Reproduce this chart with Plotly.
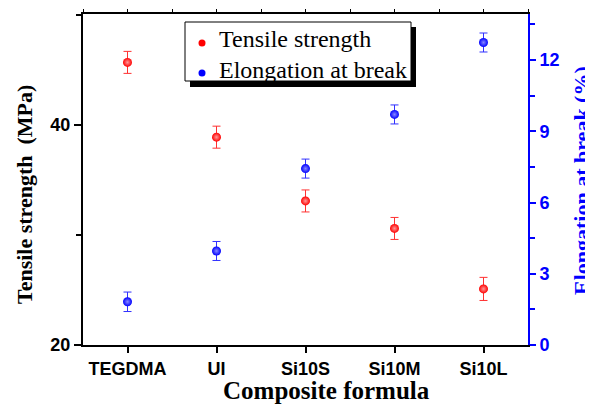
import plotly.graph_objects as go

categories = ["TEGDMA", "UI", "Si10S", "Si10M", "Si10L"]
tensile = [45.7, 38.9, 33.1, 30.6, 25.1]
tensile_err = [1.0, 1.0, 1.0, 1.0, 1.05]
elong = [1.82, 3.96, 7.43, 9.71, 12.74]
elong_err = [0.41, 0.4, 0.4, 0.4, 0.4]
series_names = ["Tensile strength", "Elongation at break"]
xpos = list(range(len(categories)))

RED, BLUE = "#ff0000", "#0000ff"

# page body has an 8px margin; work in reference-pixel coords and shift
OFF = 8
W, H = 593 - OFF, 405 - OFF
L, T = 83 - OFF, 14 - OFF
Rg, Bt = 528 - OFF, 345 - OFF
R, B = W - Rg, H - Bt
pw, ph = Rg - L, Bt - T

def px(x):
    return (x - OFF - L) / pw

def py(y):
    return (Bt - (y - OFF)) / ph

fig = go.Figure()
fig.add_trace(go.Scatter(
    x=xpos, y=tensile, mode="markers", name=series_names[0], showlegend=False,
    marker=dict(color=RED, size=9, gradient=dict(type="radial", color="#ff9999")),
    error_y=dict(type="data", array=tensile_err, color="#ff3030", thickness=1, width=4),
    yaxis="y", xaxis="x"))
fig.add_trace(go.Scatter(
    x=xpos, y=elong, mode="markers", name=series_names[1], showlegend=False,
    marker=dict(color=BLUE, size=9, gradient=dict(type="radial", color="#8888ff")),
    error_y=dict(type="data", array=elong_err, color="#3030ff", thickness=1, width=4),
    yaxis="y2", xaxis="x"))
fig.add_trace(go.Scatter(x=[None], y=[None], xaxis="x2", yaxis="y", showlegend=False))

tickfont = dict(family="Liberation Sans", size=18, color="black", weight="bold")

# manual legend box (with drop shadow)
legend_shapes = [
    dict(type="rect", xref="paper", yref="paper", x0=px(190), x1=px(416), y0=py(87), y1=py(27),
         fillcolor="black", line=dict(width=0), layer="above"),
    dict(type="rect", xref="paper", yref="paper", x0=px(185), x1=px(411), y0=py(81), y1=py(22),
         fillcolor="white", line=dict(color="black", width=1), layer="above"),
]
legend_rows = [43, 73]
legend_cols = [RED, BLUE]
for yy, col in zip(legend_rows, legend_cols):
    legend_shapes.append(dict(type="circle", xref="paper", yref="paper",
                              x0=px(198.5), x1=px(205.5), y0=py(yy + 3.5), y1=py(yy - 3.5),
                              fillcolor=col, line=dict(width=0), layer="above"))

annotations = [
    dict(text="<b>Composite formula</b>", xref="paper", yref="paper",
         x=px(326), y=py(390), xanchor="center", yanchor="middle", showarrow=False,
         font=dict(family="Liberation Serif", size=25, color="black")),
    dict(text="<b>Tensile strength  (MPa)</b>", xref="paper", yref="paper",
         x=px(24), y=py(195), xanchor="center", yanchor="middle", showarrow=False,
         textangle=-90, font=dict(family="Liberation Serif", size=22, color="black")),
    dict(text="<b>Elongation at break (%)</b>", xref="paper", yref="paper",
         x=px(581), y=py(181), xanchor="center", yanchor="middle", showarrow=False,
         textangle=-90, font=dict(family="Liberation Serif", size=22, color=BLUE)),
]
for name, yy in zip(series_names, [39.5, 70.5]):
    annotations.append(dict(text=name, xref="paper", yref="paper",
                            x=px(217), y=py(yy), xanchor="left", yanchor="middle",
                            showarrow=False,
                            font=dict(family="Liberation Serif", size=24, color="black")))

fig.update_layout(
    width=W, height=H, margin=dict(l=L, r=R, t=T, b=B, autoexpand=False),
    paper_bgcolor="white", plot_bgcolor="white",
    showlegend=False,
    xaxis=dict(range=[-0.5, 4.5], tickvals=xpos, ticktext=categories, automargin=False,
               showgrid=False, zeroline=False, showline=True, linecolor="black", linewidth=2,
               ticks="outside", ticklen=6, tickwidth=2, tickcolor="black",
               tickfont=tickfont),
    xaxis2=dict(range=[-0.5, 4.5], overlaying="x", side="top", dtick=0.5, tick0=0,
                showticklabels=False, showgrid=False, zeroline=False, showline=True,
                linecolor="black", linewidth=2, ticks="outside", ticklen=3,
                tickwidth=1, tickcolor="black", automargin=False),
    yaxis=dict(range=[20, 50.1], tickvals=[20, 40], showgrid=False, zeroline=False,
               showline=True, linecolor="black", linewidth=2, automargin=False,
               ticks="outside", ticklen=7, tickwidth=2, tickcolor="black",
               minor=dict(tickvals=[30, 50], ticks="outside", ticklen=5, tickwidth=1.5, tickcolor="black"),
               tickfont=tickfont),
    yaxis2=dict(range=[0, 13.94], overlaying="y", side="right", dtick=3, tick0=0,
                showgrid=False, zeroline=False, showline=True, linecolor=BLUE, linewidth=2,
                ticks="outside", ticklen=6, tickwidth=2, tickcolor=BLUE, automargin=False,
                minor=dict(dtick=1.5, tick0=0, ticks="outside", ticklen=5, tickwidth=1.5, tickcolor=BLUE),
                tickfont=dict(family="Liberation Sans", size=18, color=BLUE, weight="bold")),
    annotations=annotations,
    shapes=legend_shapes,
)

fig.write_html("out.html")
